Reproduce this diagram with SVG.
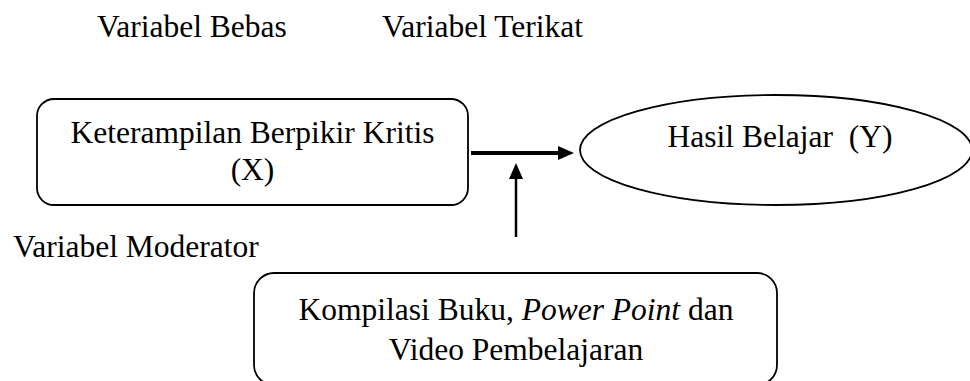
<svg xmlns="http://www.w3.org/2000/svg" width="970" height="381" viewBox="0 0 970 381">
  <style>
    .t { font-family: "Liberation Serif", "Times New Roman", serif; font-size: 31.5px; fill: #000; }
    .c { text-anchor: middle; }
    .shape { fill: #fff; stroke: #000; stroke-width: 1.8; }
    .conn { stroke: #000; fill: none; }
  </style>
  <defs>
    <marker id="ah" markerUnits="userSpaceOnUse" viewBox="0 0 16 14" markerWidth="16" markerHeight="14" refX="0" refY="7" orient="auto">
      <path d="M0,0 L16,7 L0,14 z" fill="#000"/>
    </marker>
  </defs>
  <rect width="970" height="381" fill="#fff"/>

  <g id="labels">
    <text class="t" x="97" y="37">Variabel Bebas</text>
    <text class="t" x="382" y="37">Variabel Terikat</text>
    <text class="t" x="13" y="257">Variabel Moderator</text>
  </g>

  <g id="node-x">
    <rect class="shape" x="37" y="99" width="431" height="106" rx="17" ry="17"/>
    <text class="t c" x="252.5" y="143">Keterampilan Berpikir Kritis</text>
    <text class="t c" x="252.5" y="180">(X)</text>
  </g>

  <g id="node-y">
    <ellipse class="shape" cx="776" cy="150" rx="196" ry="55"/>
    <text class="t c" x="780" y="147" xml:space="preserve">Hasil Belajar  (Y)</text>
  </g>

  <g id="node-moderator">
    <rect class="shape" x="254" y="273" width="523" height="112" rx="20" ry="20"/>
    <text class="t c" x="516" y="320">Kompilasi Buku, <tspan font-style="italic">Power Point</tspan> dan</text>
    <text class="t c" x="516" y="360">Video Pembelajaran</text>
  </g>

  <g id="connectors">
    <line class="conn" x1="471" y1="153" x2="558" y2="153" stroke-width="4" marker-end="url(#ah)"/>
    <line class="conn" x1="516" y1="237" x2="516" y2="179" stroke-width="2.5" marker-end="url(#ah)"/>
  </g>
</svg>
